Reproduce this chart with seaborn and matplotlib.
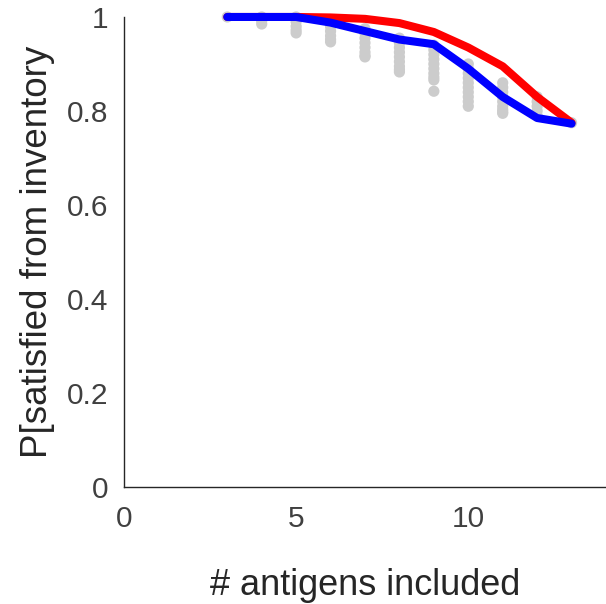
import numpy as np
import pandas as pd
import seaborn as sns
import matplotlib
matplotlib.use('Agg')
import matplotlib.pyplot as plt

# antigen counts
n_antigens = [3, 4, 5, 6, 7, 8, 9, 10, 11, 12, 13]
# mean curves
p_red = [1.0, 1.0, 1.0, 0.999, 0.996, 0.987, 0.968, 0.935, 0.895, 0.83, 0.775]
p_blue = [1.0, 1.0, 1.0, 0.988, 0.97, 0.952, 0.942, 0.89, 0.83, 0.785, 0.773]

# individual samples (gray dots), read per x column
gray_x = [3,
          4, 4, 4,
          5, 5, 5, 5, 5,
          6, 6, 6, 6, 6, 6,
          7, 7, 7, 7, 7, 7, 7, 7,
          8, 8, 8, 8, 8, 8, 8, 8, 8,
          9, 9, 9, 9, 9, 9, 9, 9, 9, 9,
          10, 10, 10, 10, 10, 10, 10, 10, 10, 10,
          11, 11, 11, 11, 11, 11, 11, 11, 11,
          12, 12, 12, 12, 12,
          13]
gray_y = [1.0,
          1.0, 0.992, 0.985,
          1.0, 0.99, 0.98, 0.972, 0.966,
          0.99, 0.98, 0.97, 0.96, 0.952, 0.947,
          0.975, 0.965, 0.955, 0.945, 0.935, 0.925, 0.918, 0.915,
          0.955, 0.945, 0.935, 0.925, 0.915, 0.905, 0.895, 0.888, 0.883,
          0.94, 0.93, 0.92, 0.91, 0.9, 0.89, 0.88, 0.872, 0.866, 0.842,
          0.9, 0.89, 0.88, 0.87, 0.86, 0.85, 0.84, 0.83, 0.82, 0.81,
          0.86, 0.85, 0.84, 0.83, 0.82, 0.81, 0.803, 0.798, 0.795,
          0.83, 0.82, 0.81, 0.8, 0.79,
          0.775]

xticks = [0, 5, 10]
yticks = [0, 0.2, 0.4, 0.6, 0.8, 1]
ytick_labels = ['0', '0.2', '0.4', '0.6', '0.8', '1']

sns.set_style('white')
plt.rcParams['font.family'] = ['Liberation Sans', 'DejaVu Sans']

fig = plt.figure(figsize=(6.06, 6.04), dpi=100)
ax = fig.add_axes([0.2046, 0.1937, 0.7954, 0.7782])

df_gray = pd.DataFrame({'x': gray_x, 'y': gray_y})
df_lines = pd.DataFrame({'x': n_antigens, 'red': p_red, 'blue': p_blue})

sns.scatterplot(data=df_gray, x='x', y='y', ax=ax, color='#cccccc', s=65,
                edgecolor='none', zorder=1, clip_on=False)
sns.lineplot(data=df_lines, x='x', y='red', ax=ax, color='#ff0000',
             linewidth=5.8, zorder=2, clip_on=False)
sns.lineplot(data=df_lines, x='x', y='blue', ax=ax, color='#0000ff',
             linewidth=5.8, zorder=3, clip_on=False)

ax.set_xlim(0, 14)
ax.set_ylim(0, 1)
ax.set_xticks(xticks)
ax.set_yticks(yticks)
ax.set_yticklabels(ytick_labels)
ax.tick_params(direction='in', length=4, width=0.8, colors='#262626',
               labelcolor='#404040', labelsize=21.5, pad=11)
ax.tick_params(axis='x', pad=13)
ax.set_xlabel('# antigens included', fontsize=26, color='#262626', labelpad=25)
ax.set_ylabel('P[satisfied from inventory', fontsize=26.5, color='#262626', labelpad=9)

sns.despine(ax=ax)
for s in ['left', 'bottom']:
    ax.spines[s].set_color('#262626')
    ax.spines[s].set_linewidth(1.0)

fig.savefig('out.png', dpi=100)
